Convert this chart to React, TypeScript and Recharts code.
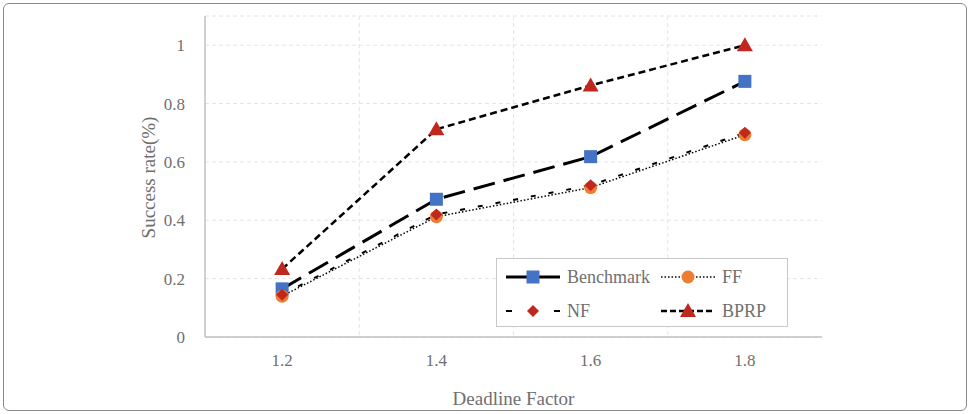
import React from 'react';
import { LineChart, Line, XAxis, YAxis, CartesianGrid } from 'recharts';

const factors = ['1.2', '1.4', '1.6', '1.8'];
const benchmark = [0.165, 0.472, 0.618, 0.876];
const ff = [0.14, 0.412, 0.512, 0.693];
const nf = [0.145, 0.42, 0.52, 0.7];
const bprp = [0.233, 0.712, 0.862, 1.0];
const yTicks = [0, 0.2, 0.4, 0.6, 0.8, 1];

const data = factors.map((f, i) => ({
  factor: f,
  benchmark: benchmark[i],
  ff: ff[i],
  nf: nf[i],
  bprp: bprp[i],
}));

const BLUE = '#4472C4';
const ORANGE = '#ED7D31';
const RED = '#C0281E';
const FONT = '"Liberation Serif", "Times New Roman", serif';
const GRAY = '#6f6f6f';

// marker shapes
const Square = (cx: number, cy: number, key?: any) => (
  <rect key={key} x={cx - 6.5} y={cy - 6.5} width={13} height={13} fill={BLUE} />
);
const Circle = (cx: number, cy: number, key?: any) => (
  <circle key={key} cx={cx} cy={cy} r={6.5} fill={ORANGE} />
);
const Diamond = (cx: number, cy: number, key?: any) => (
  <polygon key={key} points={`${cx},${cy - 6} ${cx + 6},${cy} ${cx},${cy + 6} ${cx - 6},${cy}`} fill={RED} />
);
const Triangle = (cx: number, cy: number, key?: any) => (
  <polygon key={key} points={`${cx},${cy - 8} ${cx + 8},${cy + 6} ${cx - 8},${cy + 6}`} fill={RED} />
);

const mkDot = (shape: typeof Square) => (props: any) => shape(props.cx, props.cy, `${props.index}`);

const series = [
  { key: 'benchmark', name: 'Benchmark', width: 3, dash: '22 9', shape: Square },
  { key: 'ff', name: 'FF', width: 1.5, dash: '1.5 2', shape: Circle },
  { key: 'nf', name: 'NF', width: 2, dash: '5 13', shape: Diamond },
  { key: 'bprp', name: 'BPRP', width: 2.5, dash: '7 4', shape: Triangle },
];

const LegendItem = ({ s, sampleDash }: { s: (typeof series)[number]; sampleDash: string }) => (
  <div style={{ display: 'flex', alignItems: 'center', height: 34 }}>
    <svg width={56} height={20}>
      <line x1={1} y1={10} x2={55} y2={10} stroke="#000" strokeWidth={s.width} strokeDasharray={sampleDash} />
      {s.shape(28, 10)}
    </svg>
    <span style={{ marginLeft: 6, fontFamily: FONT, fontSize: 18, color: GRAY }}>{s.name}</span>
  </div>
);

const ChartLegend = () => (
  <div
    style={{
      position: 'absolute',
      left: 496,
      top: 258,
      width: 292,
      height: 69,
      boxSizing: 'border-box',
      border: '1px solid #c8c8c8',
      background: '#fff',
      display: 'grid',
      gridTemplateColumns: '155px 130px',
      paddingLeft: 8,
      paddingTop: 1,
    }}
  >
    <LegendItem s={series[0]} sampleDash="0" />
    <LegendItem s={series[1]} sampleDash="1.5 2" />
    <LegendItem s={series[2]} sampleDash="6 18" />
    <LegendItem s={series[3]} sampleDash="6 3" />
  </div>
);

export default function App() {
  const order = [series[3], series[0], series[1], series[2]];
  return (
    <div style={{ position: 'absolute', left: 0, top: 0, width: 970, height: 414, background: '#fff', fontFamily: FONT }}>
      <div
        style={{
          position: 'absolute',
          left: 3,
          top: 3,
          width: 962,
          height: 406,
          border: '1px solid #8a8a8a',
          borderRadius: 6,
        }}
      />
      <LineChart
        width={970}
        height={414}
        data={data}
        margin={{ top: 16, right: 148, left: 140, bottom: 17 }}
        style={{ fontFamily: FONT }}
      >
        <CartesianGrid
          stroke="#e4e4e4"
          strokeDasharray="4 3"
          verticalCoordinatesGenerator={({ offset }: any) =>
            [1, 2, 3].map((i) => offset.left + (offset.width * i) / factors.length)
          }
        />
        <XAxis
          dataKey="factor"
          scale="band"
          height={60}
          tickLine={false}
          axisLine={{ stroke: '#c0c0c0', strokeWidth: 1.5 }}
          tick={{ fill: GRAY, fontFamily: FONT, fontSize: 17 }}
          tickMargin={11}
          label={({ viewBox }: any) => (
            <text
              x={viewBox.x + viewBox.width / 2}
              y={405}
              textAnchor="middle"
              fill={GRAY}
              fontFamily={FONT}
              fontSize={19}
            >
              Deadline Factor
            </text>
          )}
        />
        <YAxis
          width={65}
          domain={[0, 1.1]}
          ticks={yTicks}
          tickLine={false}
          axisLine={{ stroke: '#c0c0c0', strokeWidth: 1.5 }}
          tick={{ fill: GRAY, fontFamily: FONT, fontSize: 17 }}
          tickMargin={14}
          label={({ viewBox }: any) => (
            <text
              x={155}
              y={viewBox.y + viewBox.height / 2 + 1}
              transform={`rotate(-90 155 ${viewBox.y + viewBox.height / 2 + 1})`}
              textAnchor="middle"
              fill={GRAY}
              fontFamily={FONT}
              fontSize={19}
            >
              Success rate(%)
            </text>
          )}
        />
        {order.map((s) => (
          <Line
            key={s.key}
            dataKey={s.key}
            name={s.name}
            type="linear"
            stroke="#000"
            strokeWidth={s.width}
            strokeDasharray={s.dash}
            dot={mkDot(s.shape)}
            activeDot={false}
            isAnimationActive={false}
          />
        ))}
      </LineChart>
      <ChartLegend />
    </div>
  );
}
